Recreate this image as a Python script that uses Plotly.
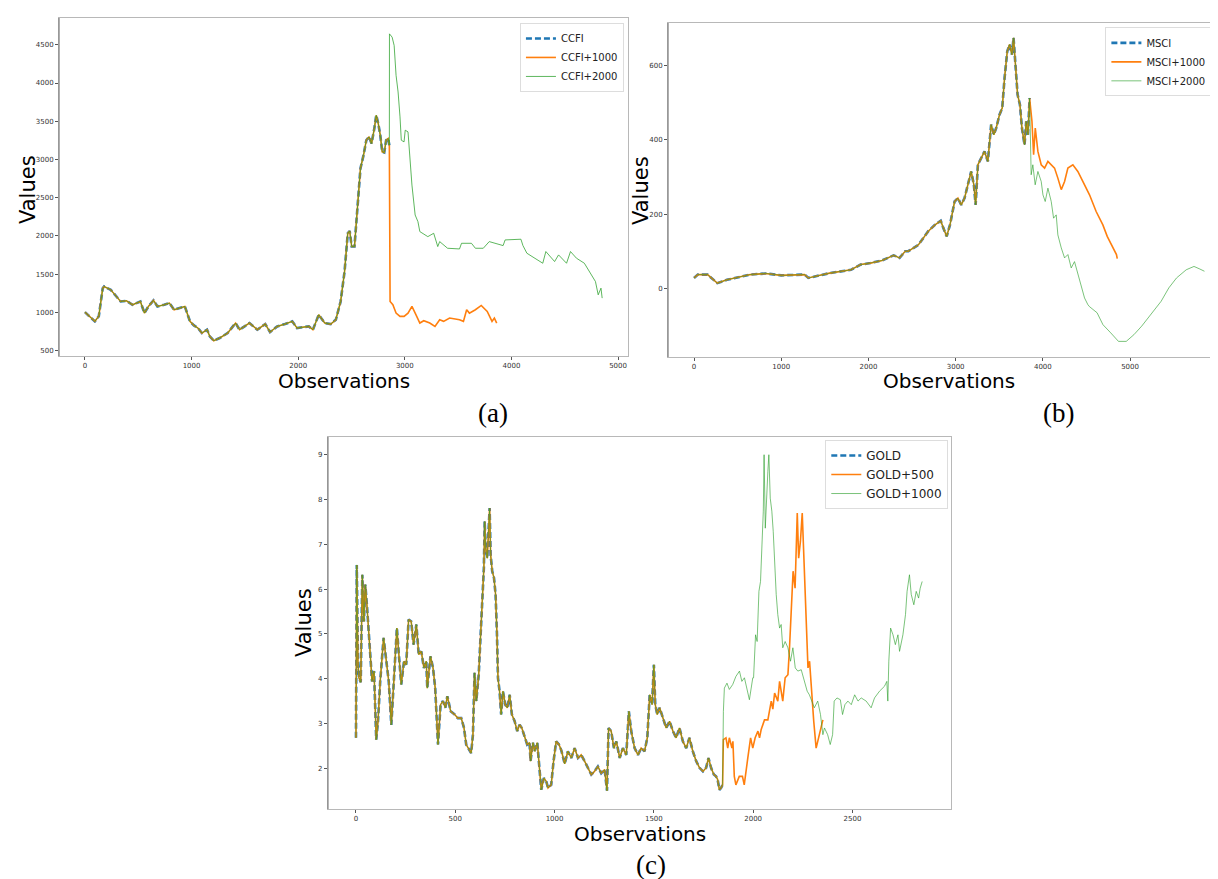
import plotly.graph_objects as go

# ---------------- Panel (a) CCFI ----------------
ccfi_x = [0, 93, 130, 167, 180, 242, 335, 390, 446, 520, 558, 595, 643, 680, 743, 792, 836, 910, 937,
          985, 1022, 1060, 1097, 1145, 1171, 1208, 1264, 1338, 1413, 1450, 1543, 1617, 1691, 1736, 1803,
          1877, 1944, 1989, 2100, 2138, 2193, 2249, 2305, 2353, 2398, 2435, 2465, 2483, 2502, 2528, 2546,
          2584, 2613, 2639, 2665, 2688, 2714, 2732, 2751, 2770, 2788, 2807, 2825, 2844, 2855]
ccfi_y = [1004, 883, 950, 1317, 1339, 1295, 1143, 1152, 1100, 1143, 991, 1078, 1157, 1078, 1100, 1122,
          1035, 1070, 1078, 883, 830, 796, 730, 774, 687, 630, 665, 730, 861, 774, 861, 774, 848, 743, 817,
          848, 883, 796, 817, 774, 970, 861, 848, 904, 1143, 1535, 2035, 2065, 1861, 1861, 2187,
          2883, 3057, 3252, 3296, 3209, 3404, 3578, 3470, 3317, 3100, 3091, 3252, 3274, 3187]
ccfi1000_x = [2862, 2888, 2918, 2955, 2993, 3030, 3067, 3104, 3141, 3178, 3234, 3283, 3327, 3364, 3420,
              3513, 3550, 3580, 3606, 3662, 3717, 3773, 3818, 3840, 3862]
ccfi1000_y = [1143, 1100, 991, 948, 948, 991, 1078, 970, 861, 891, 861, 817, 904, 883, 926,
              904, 883, 1035, 991, 1035, 1091, 1013, 883, 926, 861]
ccfi2000_x = [2856, 2881, 2900, 2918, 2937, 2955, 2967, 2993, 3004, 3030, 3048, 3067, 3097, 3123, 3141,
              3216, 3271, 3309, 3327, 3401, 3513, 3532, 3625, 3662, 3736, 3792, 3922, 3941, 4089, 4108,
              4145, 4238, 4294, 4323, 4368, 4405, 4442, 4517, 4554, 4610, 4684, 4740, 4788, 4814, 4840, 4851]
ccfi2000_y = [4643, 4600, 4491, 4100, 3883, 3557, 3252, 3230, 3383, 3361, 3013, 2665, 2274, 2187, 2057,
              1991, 2035, 1861, 1926, 1839, 1830, 1904, 1904, 1839, 1839, 1926, 1874, 1948, 1957, 1874,
              1774, 1687, 1643, 1796, 1730, 1665, 1752, 1643, 1796, 1709, 1643, 1513, 1404, 1230, 1317, 1187]

# ---------------- Panel (b) MSCI ----------------
msci_x = [0, 44, 156, 267, 378, 556, 644, 822, 1000, 1267, 1311, 1444, 1556, 1800, 1911, 2022, 2156,
          2289, 2356, 2422, 2457, 2572, 2686, 2763, 2829, 2858, 2897, 2935, 2988, 3026, 3064, 3102,
          3140, 3178, 3209, 3229, 3255, 3293, 3331, 3369, 3407, 3438, 3465, 3503, 3534, 3561, 3592,
          3618, 3645, 3664, 3683, 3710, 3737, 3760, 3790, 3809, 3829, 3848]
msci_y = [28, 37, 37, 14, 23, 32, 37, 40, 35, 37, 28, 35, 41, 50, 64, 68, 75,
          89, 82, 100, 100, 117, 154, 171, 182, 163, 140, 171, 234, 243, 225, 243,
          279, 315, 279, 225, 333, 351, 369, 342, 441, 414, 432, 468, 486, 567, 639,
          657, 630, 675, 612, 522, 495, 432, 387, 450, 414, 513]
msci1000_x = [3875, 3894, 3913, 3943, 3981, 4020, 4058, 4096, 4134, 4172, 4211, 4249, 4287, 4344,
              4401, 4458, 4535, 4611, 4688, 4738, 4778, 4844, 4853]
msci1000_y = [450, 360, 432, 369, 333, 324, 342, 333, 324, 297, 266, 288, 324, 333,
              315, 288, 252, 207, 171, 140, 122, 91, 80]
msci2000_x = [3866, 3885, 3912, 3943, 3981, 4001, 4027, 4058, 4096, 4123, 4153, 4172, 4211, 4249,
              4287, 4325, 4363, 4401, 4440, 4478, 4516, 4533, 4622, 4689, 4778, 4867, 4956, 5044,
              5133, 5222, 5356, 5444, 5533, 5644, 5733, 5800, 5853]
msci2000_y = [306, 333, 279, 315, 288, 252, 234, 270, 234, 189, 198, 144, 109, 82,
              91, 55, 72, 37, 1, -26, -44, -49, -66, -98, -120, -143, -143, -125,
              -102, -75, -35, 1, 28, 50, 59, 52, 46]

# ---------------- Panel (c) GOLD ----------------
gold_x = [0, 4, 10, 15, 24, 32, 40, 47, 55, 64, 72, 81, 91, 102, 111, 122, 139, 153, 165, 178, 190,
          206, 216, 228, 242, 253, 265, 278, 290, 304, 316, 329, 342, 354, 359, 375, 388, 399, 413,
          426, 438, 450, 460, 477, 497, 513, 530, 544, 555, 567, 580, 589, 597, 606, 618, 626, 636,
          644, 648, 653, 661, 670, 673, 678, 686, 695, 703, 710, 715, 723, 731, 740, 752, 762, 774,
          785, 799, 812, 824, 835, 849, 862, 874, 879, 891, 900, 913, 921, 933, 946, 958, 967, 983,
          995, 1008, 1022, 1034, 1051, 1067, 1084, 1101, 1118, 1134, 1151, 1168, 1185, 1201, 1218,
          1235, 1252, 1264, 1272, 1285, 1299, 1311, 1328, 1344, 1361, 1374, 1386, 1403, 1420, 1436,
          1453, 1467, 1479, 1491, 1500, 1507, 1517, 1529, 1545, 1562, 1579, 1596, 1612, 1629, 1646,
          1663, 1679, 1696, 1713, 1730, 1747, 1763, 1775, 1788, 1802, 1813, 1821, 1830, 1838, 1846]
gold_y = [2.68, 6.54, 4.39, 4.02, 3.92, 6.32, 5.28, 6.10, 5.65, 5.06, 4.39, 3.94, 4.17, 2.64, 3.05,
          3.94, 4.91, 4.39, 3.94, 2.97, 3.79, 5.13, 4.54, 3.87, 4.39, 4.31, 5.32, 5.28, 4.76, 5.21,
          4.54, 4.61, 4.24, 4.39, 3.79, 4.50, 4.24, 3.79, 2.53, 3.42, 3.50, 3.35, 3.61, 3.27, 3.20,
          3.12, 3.12, 2.90, 2.53, 2.45, 2.34, 2.75, 4.13, 3.50, 4.09, 4.83, 5.88, 6.47, 7.51, 6.92,
          6.69, 7.36, 7.81, 6.77, 6.40, 6.25, 5.88, 4.98, 4.02, 3.72, 3.20, 3.72, 3.42, 3.35, 3.64,
          3.20, 3.05, 2.83, 2.97, 2.90, 2.68, 2.53, 2.57, 2.16, 2.57, 2.38, 2.57, 2.08, 1.52, 1.78,
          1.71, 1.56, 1.63, 2.16, 2.60, 2.53, 2.40, 2.10, 2.38, 2.23, 2.45, 2.23, 2.30, 2.16, 2.01,
          1.86, 1.93, 2.04, 1.89, 1.97, 1.50, 2.90, 2.83, 2.45, 2.60, 2.23, 2.45, 2.30, 3.27, 2.83,
          2.45, 2.30, 2.45, 2.38, 2.68, 3.64, 3.42, 4.31, 3.42, 3.20, 3.35, 3.12, 2.90, 3.05, 2.83,
          2.68, 2.90, 2.60, 2.45, 2.68, 2.38, 2.16, 2.01, 1.93, 2.01, 2.23, 2.01, 1.86, 1.82, 1.75,
          1.52, 1.56, 1.63]
gold500_x = [1850, 1863, 1872, 1880, 1893, 1898, 1905, 1913, 1930, 1946, 1955, 1965, 1973, 1987,
             1998, 2010, 2024, 2032, 2040, 2057, 2074, 2091, 2099, 2108, 2124, 2133, 2149, 2161,
             2175, 2183, 2191, 2201, 2211, 2222, 2229, 2238, 2247, 2255, 2262, 2270, 2276, 2284,
             2296, 2305, 2317, 2329, 2339, 2351]
gold500_y = [2.64, 2.68, 2.45, 2.68, 2.45, 2.60, 1.82, 1.63, 1.82, 1.82, 1.63, 2.04, 2.23, 2.68,
             2.45, 2.68, 2.83, 2.68, 2.86, 3.08, 3.08, 3.50, 3.32, 3.68, 3.50, 3.94, 3.50, 4.02,
             4.09, 4.69, 5.58, 6.40, 6.02, 7.70, 6.69, 7.07, 7.70, 6.62, 5.95, 4.98, 4.24, 4.39,
             3.50, 3.05, 2.45, 2.68, 2.90, 3.08]
gold1000_x = [1850, 1855, 1868, 1880, 1897, 1913, 1931, 1943, 1956, 1968, 1981, 1990, 1998, 2002,
              2012, 2020, 2029, 2037, 2044, 2051, 2055, 2061, 2074, 2079, 2086, 2094, 2101, 2108,
              2116, 2124, 2133, 2141, 2149, 2161, 2175, 2188, 2200, 2212, 2225, 2242, 2259, 2272,
              2283, 2295, 2308, 2325, 2339, 2351, 2359, 2375, 2388, 2400, 2408, 2422, 2439, 2450,
              2462, 2477, 2494, 2511, 2528, 2544, 2569, 2594, 2611, 2636, 2661, 2673, 2678, 2683,
              2692, 2704, 2716, 2729, 2737, 2754, 2767, 2775, 2787, 2796, 2809, 2821, 2833, 2841, 2851]
gold1000_y = [3.27, 3.79, 3.90, 3.76, 3.87, 4.05, 4.17, 3.94, 4.02, 3.79, 3.53, 3.79, 4.02, 4.02,
              4.98, 4.83, 5.95, 6.17, 6.92, 7.74, 9.00, 7.36, 8.63, 9.00, 8.03, 7.74, 7.29, 6.54,
              5.88, 5.43, 5.13, 5.21, 4.69, 4.83, 4.69, 4.39, 4.69, 4.24, 4.17, 4.20, 3.94, 3.72,
              3.64, 3.50, 3.35, 3.50, 3.20, 2.75, 2.90, 2.75, 2.53, 2.75, 3.50, 3.57, 3.53, 3.20,
              3.42, 3.50, 3.42, 3.64, 3.50, 3.57, 3.50, 3.35, 3.57, 3.72, 3.83, 3.94, 3.50, 4.39,
              5.13, 4.98, 4.76, 4.98, 4.61, 4.98, 5.43, 5.95, 6.32, 5.88, 5.65, 5.95, 5.80, 6.02, 6.17]

BLUE = "#1f77b4"
ORANGE = "#ff7f0e"
GREEN_A = "rgba(44,160,44,0.85)"
GREEN_BC = "rgba(44,160,44,0.7)"

fig = go.Figure()

panels = [
    dict(ax="", leg="legend", names=["CCFI", "CCFI+1000", "CCFI+2000"], green=GREEN_A,
         base=(ccfi_x, ccfi_y), ext1=(ccfi1000_x, ccfi1000_y), ext2=(ccfi2000_x, ccfi2000_y)),
    dict(ax="2", leg="legend2", names=["MSCI", "MSCI+1000", "MSCI+2000"], green=GREEN_BC,
         base=(msci_x, msci_y), ext1=(msci1000_x, msci1000_y), ext2=(msci2000_x, msci2000_y)),
    dict(ax="3", leg="legend3", names=["GOLD", "GOLD+500", "GOLD+1000"], green=GREEN_BC,
         base=(gold_x, gold_y), ext1=(gold500_x, gold500_y), ext2=(gold1000_x, gold1000_y)),
]

for p in panels:
    bx, by = p["base"]
    e1x, e1y = p["ext1"]
    e2x, e2y = p["ext2"]
    xa, ya = "x" + p["ax"], "y" + p["ax"]
    fig.add_trace(go.Scatter(x=bx, y=by, mode="lines", name=p["names"][0], legend=p["leg"],
                             line=dict(color=BLUE, width=2.6, dash="6px,3px"), xaxis=xa, yaxis=ya))
    fig.add_trace(go.Scatter(x=bx + e1x, y=by + e1y, mode="lines", name=p["names"][1], legend=p["leg"],
                             line=dict(color=ORANGE, width=1.6), xaxis=xa, yaxis=ya))
    fig.add_trace(go.Scatter(x=bx + e2x, y=by + e2y, mode="lines", name=p["names"][2], legend=p["leg"],
                             line=dict(color=p["green"], width=0.9), xaxis=xa, yaxis=ya))

tickfont = dict(family="DejaVu Sans", size=7, color="#333")
def axstyle(domain, rng, dtick):
    return dict(domain=domain, range=rng, dtick=dtick, showgrid=False, zeroline=False,
                showline=True, linecolor="#b8b8b8", linewidth=1, mirror=True,
                ticks="outside", ticklen=3, tickcolor="#555", tickfont=tickfont)

fig.update_layout(
    width=1218, height=879, margin=dict(l=0, r=0, t=0, b=0, autoexpand=False),
    paper_bgcolor="white", plot_bgcolor="white", showlegend=True,
    xaxis=dict(axstyle([0.0419, 0.509], [-243, 5093], 1000), anchor="y"),
    yaxis=dict(axstyle([0.6041, 0.9886], [430, 4850], 500), anchor="x"),
    xaxis2=dict(axstyle([0.5419, 1.0], [-298, 6100], 1000), anchor="y2"),
    yaxis2=dict(axstyle([0.6030, 0.9829], [-185, 715], 200), anchor="x2"),
    xaxis3=dict(axstyle([0.2627, 0.7742], [-141, 2996], 500), anchor="y3"),
    yaxis3=dict(axstyle([0.0887, 0.5119], [1.09, 9.395], 1), anchor="x3"),
)
# darker left spines as in the reference
for yd, xd in [([0.6041, 0.9886], 0.0419), ([0.6030, 0.9829], 0.5419), ([0.0887, 0.5119], 0.2627)]:
    fig.add_shape(type="line", xref="paper", yref="paper", x0=xd, x1=xd, y0=yd[0], y1=yd[1],
                  line=dict(color="#808080", width=1.2))

legcommon = dict(bgcolor="rgba(255,255,255,0.9)", bordercolor="#dddddd", borderwidth=1,
                 yanchor="top", tracegroupgap=0, itemwidth=30, xanchor="right")
fig.update_layout(
    legend=dict(legcommon, x=0.5057, y=0.983,
                font=dict(family="DejaVu Sans", size=10, color="#222")),
    legend2=dict(legcommon, x=0.988, y=0.978,
                 font=dict(family="DejaVu Sans", size=10, color="#222")),
    legend3=dict(legcommon, x=0.772, y=0.5085,
                 font=dict(family="DejaVu Sans", size=12, color="#222")),
)

def ann(text, x, y, size, angle=0, family="DejaVu Sans"):
    fig.add_annotation(text=text, x=x / 1218, y=1 - y / 879, xref="paper", yref="paper",
                       showarrow=False, textangle=angle, xanchor="center", yanchor="middle",
                       font=dict(family=family, size=size, color="black"))

ann("Observations", 336, 373, 20)
ann("Values", 20, 182, 21, -90)
ann("Observations", 941, 373, 20)
ann("Values", 633, 183, 21, -90)
ann("Observations", 632, 826, 20)
ann("Values", 296, 615, 21, -90)
ann("(a)", 485, 405, 27, family="Liberation Serif")
ann("(b)", 1050, 405, 27, family="Liberation Serif")
ann("(c)", 643, 857, 27, family="Liberation Serif")

fig.write_html("out.html")
